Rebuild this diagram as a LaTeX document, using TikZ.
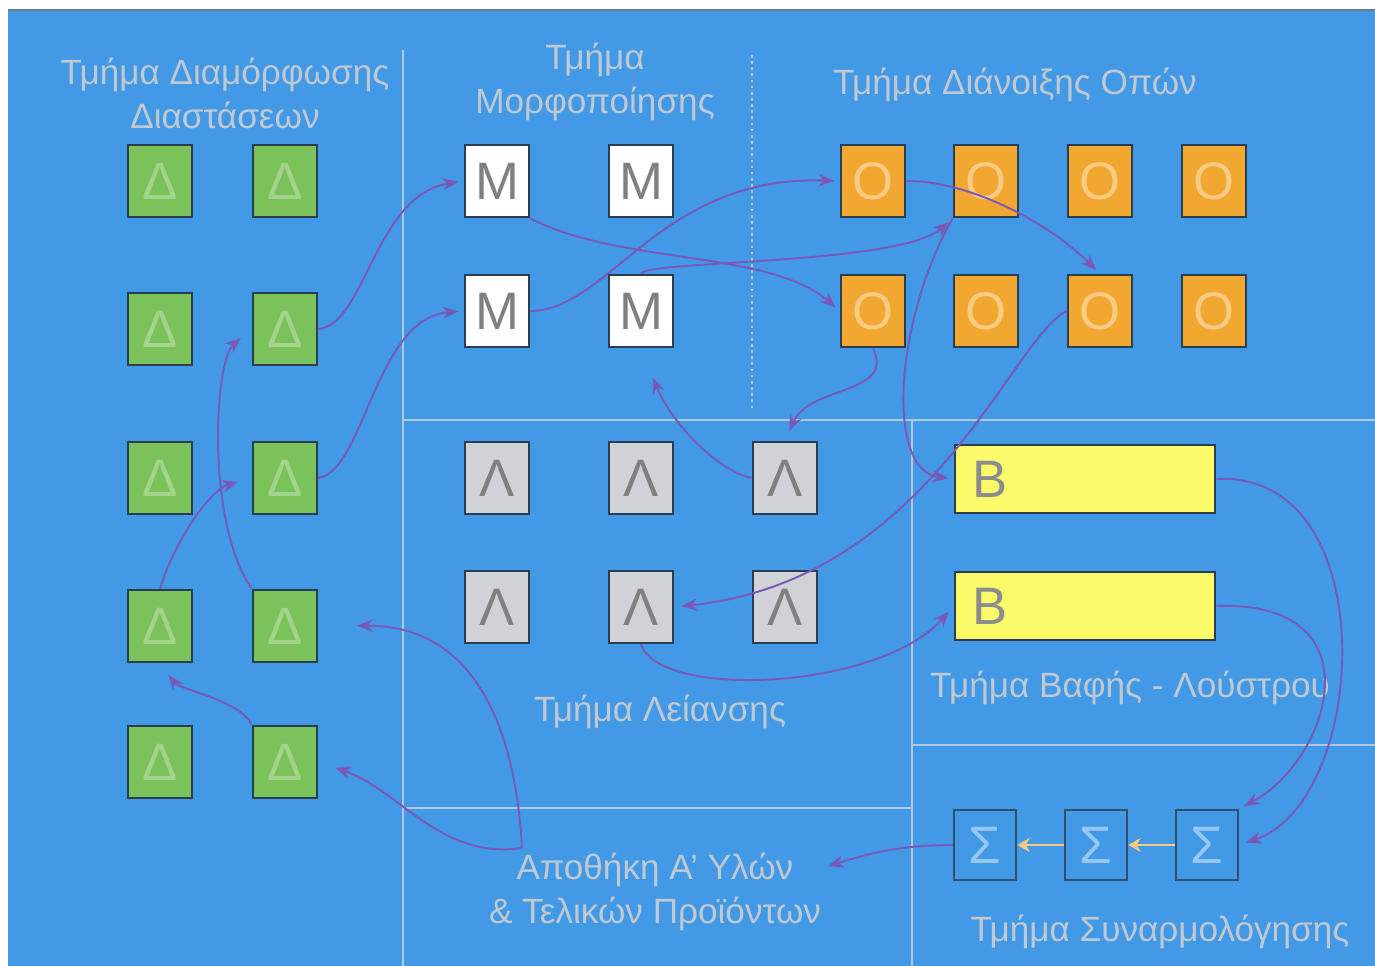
\documentclass[tikz,border=0pt]{standalone}
\usepackage{fontspec}
\setmainfont{Liberation Sans}
\usetikzlibrary{arrows.meta}
\definecolor{bgblue}{HTML}{4299E6}
\definecolor{boxedge}{HTML}{2B3E50}
\definecolor{gfill}{HTML}{7CC25A}
\definecolor{ofill}{HTML}{F2A830}
\definecolor{lfill}{HTML}{CFD3D8}
\definecolor{yfill}{HTML}{FAFA6A}
\definecolor{flow}{HTML}{7A58B8}
\definecolor{divider}{HTML}{B4C6DA}
\definecolor{labelgrey}{HTML}{C0C8D2}
\tikzset{
  x=0.02cm, y=-0.02cm,
  cell/.style={draw=boxedge, line width=1.6pt, minimum width=1.28cm, minimum height=1.44cm, inner sep=0pt, font=\fontsize{30}{32}\selectfont},
  dbox/.style={cell, fill=gfill, text=gfill!70!white},
  mbox/.style={cell, fill=white, text=black!50},
  obox/.style={cell, fill=ofill, text=ofill!60!white},
  lbox/.style={cell, fill=lfill, text=black!50},
  sbox/.style={cell, fill=bgblue, draw=boxedge!80!bgblue, text=bgblue!55!white, minimum width=1.24cm, minimum height=1.40cm},
  bbox/.style={draw=boxedge, line width=1.6pt, fill=yfill, minimum width=5.2cm, minimum height=1.36cm, inner sep=0pt},
  dept/.style={text=labelgrey, font=\fontsize{20}{25}\selectfont, align=center},
  divline/.style={draw=divider, line width=1.5pt},
  flowline/.style={draw=flow, line width=1.1pt, -{Stealth[length=9pt,width=7pt]}},
  sumarrow/.style={draw=ofill!60!white, line width=1.4pt, -{Stealth[length=7pt,width=8pt]}}
}
\begin{document}
\begin{tikzpicture}
\useasboundingbox (0,0) rectangle (1375,966);
\fill[white] (0,0) rectangle (1375,966);
\fill[bgblue] (8,10) rectangle (1375,966);
\draw[boxedge!70!white, line width=1.5pt] (8,10) -- (1375,10);

% dividers
\draw[divline] (403,50) -- (403,966);
\draw[divline, dotted] (752,55) -- (752,410);
\draw[divline] (403,420) -- (1375,420);
\draw[divline] (912,420) -- (912,966);
\draw[divline] (912,745) -- (1375,745);
\draw[divline] (403,808) -- (912,808);

% department labels
\node[dept] (tD) at (225,93) {Τμήμα Διαμόρφωσης\\Διαστάσεων};
\node[dept] (tM) at (595,82) {Τμήμα\\Μορφοποίησης};
\node[dept] (tO) at (1015,85) {Τμήμα Διάνοιξης Οπών};
\node[dept] (tL) at (660,712) {Τμήμα Λείανσης};
\node[dept] (tB) at (1130,688) {Τμήμα Βαφής - Λούστρου};
\node[dept] (store) at (655,892) {Αποθήκη Α' Υλών\\\& Τελικών Προϊόντων};
\node[dept] (tS) at (1160,932) {Τμήμα Συναρμολόγησης};

% D boxes
\node[dbox] (d11) at (160,181) {Δ};
\node[dbox] (d12) at (285,181) {Δ};
\node[dbox] (d21) at (160,329) {Δ};
\node[dbox] (d22) at (285,329) {Δ};
\node[dbox] (d31) at (160,478) {Δ};
\node[dbox] (d32) at (285,478) {Δ};
\node[dbox] (d41) at (160,626) {Δ};
\node[dbox] (d42) at (285,626) {Δ};
\node[dbox] (d51) at (160,762) {Δ};
\node[dbox] (d52) at (285,762) {Δ};

% M boxes
\node[mbox] (m11) at (497,181) {M};
\node[mbox] (m12) at (641,181) {M};
\node[mbox] (m21) at (497,311) {M};
\node[mbox] (m22) at (641,311) {M};

% O boxes
\node[obox] (o11) at (873,181) {O};
\node[obox] (o12) at (986,181) {O};
\node[obox] (o13) at (1100,181) {O};
\node[obox] (o14) at (1214,181) {O};
\node[obox] (o21) at (873,311) {O};
\node[obox] (o22) at (986,311) {O};
\node[obox] (o23) at (1100,311) {O};
\node[obox] (o24) at (1214,311) {O};

% L boxes
\node[lbox] (l11) at (497,478) {Λ};
\node[lbox] (l12) at (641,478) {Λ};
\node[lbox] (l13) at (785,478) {Λ};
\node[lbox] (l21) at (497,607) {Λ};
\node[lbox] (l22) at (641,607) {Λ};
\node[lbox] (l23) at (785,607) {Λ};

% B boxes
\node[bbox] (b1) at (1085,479) {};
\node[bbox] (b2) at (1085,606) {};
\node[text=black!45, font=\fontsize{30}{32}\selectfont, anchor=west] (b1t) at (b1.west) {\hspace{0.25cm}B};
\node[text=black!45, font=\fontsize{30}{32}\selectfont, anchor=west] (b2t) at (b2.west) {\hspace{0.25cm}B};

% Sigma boxes
\node[sbox] (s1) at (985,845) {Σ};
\node[sbox] (s2) at (1096,845) {Σ};
\node[sbox] (s3) at (1207,845) {Σ};

\coordinate (storeIn) at (828,866);
\coordinate (storeOut) at (522,848);

% flows
\draw[flowline, shorten >=3pt] (d22.east) .. controls (365,325) and (375,195) .. (m11.west);
\draw[flowline, shorten >=3pt] (d32.east) .. controls (365,470) and (375,318) .. (m21.west);
\draw[flowline, shorten >=3pt] (m11.south east) .. controls (620,265) and (770,250) .. (o21.west);
\draw[flowline, shorten >=3pt] (m21.east) .. controls (610,310) and (660,175) .. (o11.west);
\draw[flowline, shorten >=3pt] (m22.north) .. controls (650,260) and (900,265) .. (o12.south west);
\draw[flowline, shorten >=3pt] (o11.east) .. controls (960,180) and (1040,215) .. (o23.north);
\draw[flowline, shorten >=3pt] (o12.south west) .. controls (895,320) and (885,470) .. (b1.west);
\draw[flowline, shorten >=6pt] (o21.south) .. controls (895,395) and (810,385) .. (l13.north);
\draw[flowline, shorten >=18pt] (l13.west) .. controls (715,470) and (670,420) .. (m22.south);
\draw[flowline, shorten >=4pt] (o23.west) .. controls (1010,340) and (930,580) .. (l22.east);
\draw[flowline, shorten >=4pt] (l22.south) .. controls (660,700) and (880,690) .. (b2.west);
\draw[flowline, shorten >=4pt] (b1.east) .. controls (1385,470) and (1370,800) .. (s3.east);
\draw[flowline, shorten >=3pt] (b2.east) .. controls (1380,600) and (1330,760) .. (s3.north east);
\draw[sumarrow] (s3.west) -- (s2.east);
\draw[sumarrow] (s2.west) -- (s1.east);
\draw[flowline] (s1.west) .. controls (895,845) and (865,855) .. (storeIn);
\draw[flowline, shorten >=22pt] (storeOut) .. controls (515,720) and (470,625) .. (d42.east);
\draw[flowline, shorten >=10pt] (storeOut) .. controls (440,860) and (400,790) .. (d52.east);
\draw[flowline, shorten >=8pt] (d52.north west) .. controls (240,700) and (180,690) .. (d41.south);
\draw[flowline, shorten >=8pt] (d41.north) .. controls (175,540) and (210,490) .. (d32.west);
\draw[flowline, shorten >=8pt] (d42.north west) .. controls (205,520) and (215,360) .. (d22.west);
\end{tikzpicture}
\end{document}
